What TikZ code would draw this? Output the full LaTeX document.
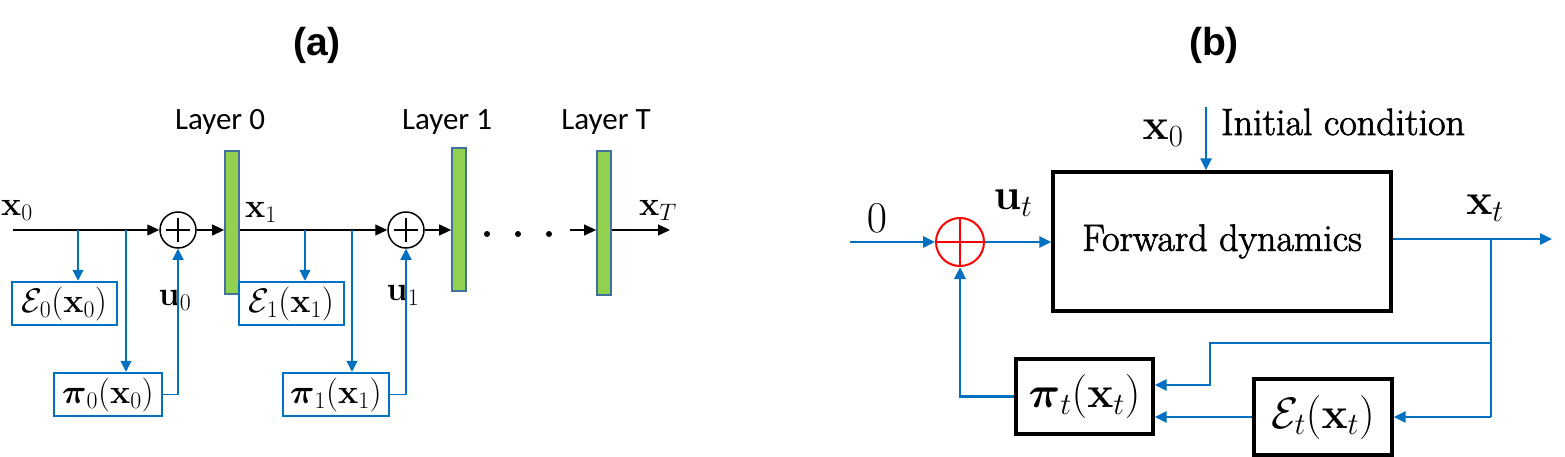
\documentclass[tikz,border=0pt]{standalone}
\usepackage{fix-cm}
\usepackage{amsmath,amssymb}
\usepackage[no-math]{fontspec}
\newfontfamily\calib{Carlito}
\newfontfamily\arialf{Liberation Sans}
\usetikzlibrary{arrows.meta}
\definecolor{mblue}{HTML}{0070C0}
\definecolor{bargreen}{HTML}{92D050}
\definecolor{barblue}{HTML}{41719C}
\newcommand{\szA}{\fontsize{34}{40}\selectfont}
\newcommand{\szB}{\fontsize{44}{50}\selectfont}
\newcommand{\heavytxt}[1]{\special{pdf:literal direct 2 Tr 0.7 w}#1\special{pdf:literal direct 0 Tr}}
\begin{document}
\begin{tikzpicture}[x=1pt,y=-1pt,
  blk/.style={black,line width=1.3pt,-{Triangle[length=12pt,width=11pt]}},
  bla/.style={mblue,line width=1.2pt,-{Triangle[length=11pt,width=11pt]}},
  abox/.style={draw=mblue,line width=2.5pt,minimum height=43pt,inner sep=0pt,font=\szA},
  barn/.style={draw=barblue,fill=bargreen,line width=1.8pt,minimum width=14pt,inner sep=0pt},
  sumA/.style={circle,draw,line width=1.5pt,minimum size=36pt,inner sep=0pt},
  lay/.style={font=\calib\fontsize{31}{36}\selectfont,inner sep=0pt},
  ttl/.style={font=\arialf\bfseries\fontsize{39}{45}\selectfont,inner sep=0pt},
  lblA/.style={font=\szA,inner sep=0pt},
  lblB/.style={font=\szB,inner sep=0pt},
  dotn/.style={circle,fill=black,minimum size=6pt,inner sep=0pt},
  bbl/.style={mblue,line width=2.8pt,-{Triangle[length=12pt,width=11pt]}},
  bline/.style={mblue,line width=2.8pt},
  bbox/.style={draw=black,line width=3.3pt,inner sep=0pt,font=\szB},
  sumB/.style={circle,draw=red,line width=2pt,minimum size=48pt,inner sep=0pt},
  txtB/.style={font=\rmfamily\fontsize{38}{44}\selectfont}
]
\useasboundingbox (0,0) rectangle (1565,457);

% ---------------- (a) ----------------
\node[ttl] (ta) at (317,45) {(a)};

\node[barn,minimum height=143pt] (b0) at (232,222.5) {};
\node[barn,minimum height=143pt] (b1) at (459,219.5) {};
\node[barn,minimum height=144pt] (bT) at (604,223) {};
\node[lay] (l0) at (220,122) {Layer 0};
\node[lay] (l1) at (447,122) {Layer 1};
\node[lay] (lT) at (606,122) {Layer T};

\node[sumA] (c1) at (178,230) {};
\node[sumA] (c2) at (406,230) {};
\draw[line width=1.2pt] (c1.center) ++(-12,0) -- ++(24,0);
\draw[line width=1.2pt] (c1.center) ++(0,-12) -- ++(0,24);
\draw[line width=1.2pt] (c2.center) ++(-12,0) -- ++(24,0);
\draw[line width=1.2pt] (c2.center) ++(0,-12) -- ++(0,24);

\node[abox,minimum width=105pt] (e0) at (64.5,303.5) {$\mathcal{E}_0(\mathbf{x}_0)$};
\node[abox,minimum width=108pt] (p0) at (108,394.5) {$\boldsymbol{\pi}_0(\mathbf{x}_0)$};
\node[abox,minimum width=105pt] (e1) at (291.5,303.5) {$\mathcal{E}_1(\mathbf{x}_1)$};
\node[abox,minimum width=106pt] (p1) at (336,394.5) {$\boldsymbol{\pi}_1(\mathbf{x}_1)$};

\node[lblA] (lx0) at (17,210) {$\mathbf{x}_0$};
\node[lblA] (lx1) at (261,212) {$\mathbf{x}_1$};
\node[lblA] (lu0) at (175,300) {$\mathbf{u}_0$};
\node[lblA] (lu1) at (403,295) {$\mathbf{u}_1$};
\node[lblA] (lxT) at (658,210) {$\mathbf{x}_T$};

\coordinate (in0) at (13,230);
\draw[blk] (in0) -- (c1.west);
\draw[blk] (c1.east) -- (c1.east -| b0.west);
\draw[blk] (b0.east |- c2) -- (c2.west);
\draw[blk] (c2.east) -- (c2.east -| b1.west);

\node[dotn] (dt1) at (487,234) {};
\node[dotn] (dt2) at (518,234) {};
\node[dotn] (dt3) at (549,234) {};

\coordinate (tin) at (570,230);
\coordinate (xTend) at (670,230);
\draw[blk] (tin) -- (tin -| bT.west);
\draw[blk] (tin -| bT.east) -- (xTend);

\coordinate (d0) at (78,230);
\coordinate (d1) at (126,230);
\coordinate (d2) at (305,230);
\coordinate (d3) at (352,230);
\draw[bla] (d0) -- (d0 |- e0.north);
\draw[bla] (d1) -- (d1 |- p0.north);
\draw[bla] (d2) -- (d2 |- e1.north);
\draw[bla] (d3) -- (d3 |- p1.north);
\draw[bla] (p0.east) -| (c1.south);
\draw[bla] (p1.east) -| (c2.south);

% ---------------- (b) ----------------
\node[ttl] (tb) at (1214,45) {(b)};

\node[sumB] (sb) at (960,242) {};
\draw[red,line width=2pt] (sb.west) -- (sb.east);
\draw[red,line width=2pt] (sb.north) -- (sb.south);

\node[bbox,minimum width=338pt,minimum height=139pt,txtB] (fd) at (1222,241.5) {\heavytxt{Forward dynamics}};
\node[bbox,minimum width=137pt,minimum height=75pt] (pb) at (1084.5,396.5) {$\boldsymbol{\pi}_t(\mathbf{x}_t)$};
\node[bbox,minimum width=138pt,minimum height=76pt] (eb) at (1323,417) {$\mathcal{E}_t(\mathbf{x}_t)$};

\node[lblB] (lzero) at (877,218) {$0$};
\node[lblB] (lut) at (1013,203) {$\mathbf{u}_t$};
\node[lblB] (lx0b) at (1163,133) {$\mathbf{x}_0$};
\node[lblB] (lxt) at (1485,208) {$\mathbf{x}_t$};
\node[anchor=base west,inner sep=0pt,txtB] (ic) at (1221,135) {\heavytxt{Initial condition}};

\coordinate (zin) at (850,242);
\draw[bbl] (zin) -- (sb.west);
\draw[bbl] (sb.east) -- (sb.east -| fd.west);
\coordinate (x0top) at (1206,107);
\draw[bbl] (x0top) -- (x0top |- fd.north);
\coordinate (outend) at (1552,239);
\draw[bbl] (fd.east |- outend) -- (outend);
\coordinate (br) at (1491,239);
\coordinate (brlow) at (1491,417);
\coordinate (bru) at (1491,343);
\coordinate (bend) at (1210,343);
\coordinate (bend2) at (1210,385);
\draw[bline] (br) -- (brlow);
\draw[bbl] (brlow) -- (brlow -| eb.east);
\draw[bbl] (bru) -- (bend) -- (bend2) -- (bend2 -| pb.east);
\draw[bbl] (eb.west) -- (eb.west -| pb.east);
\draw[bbl] (pb.west) -| (sb.south);
\end{tikzpicture}
\end{document}
